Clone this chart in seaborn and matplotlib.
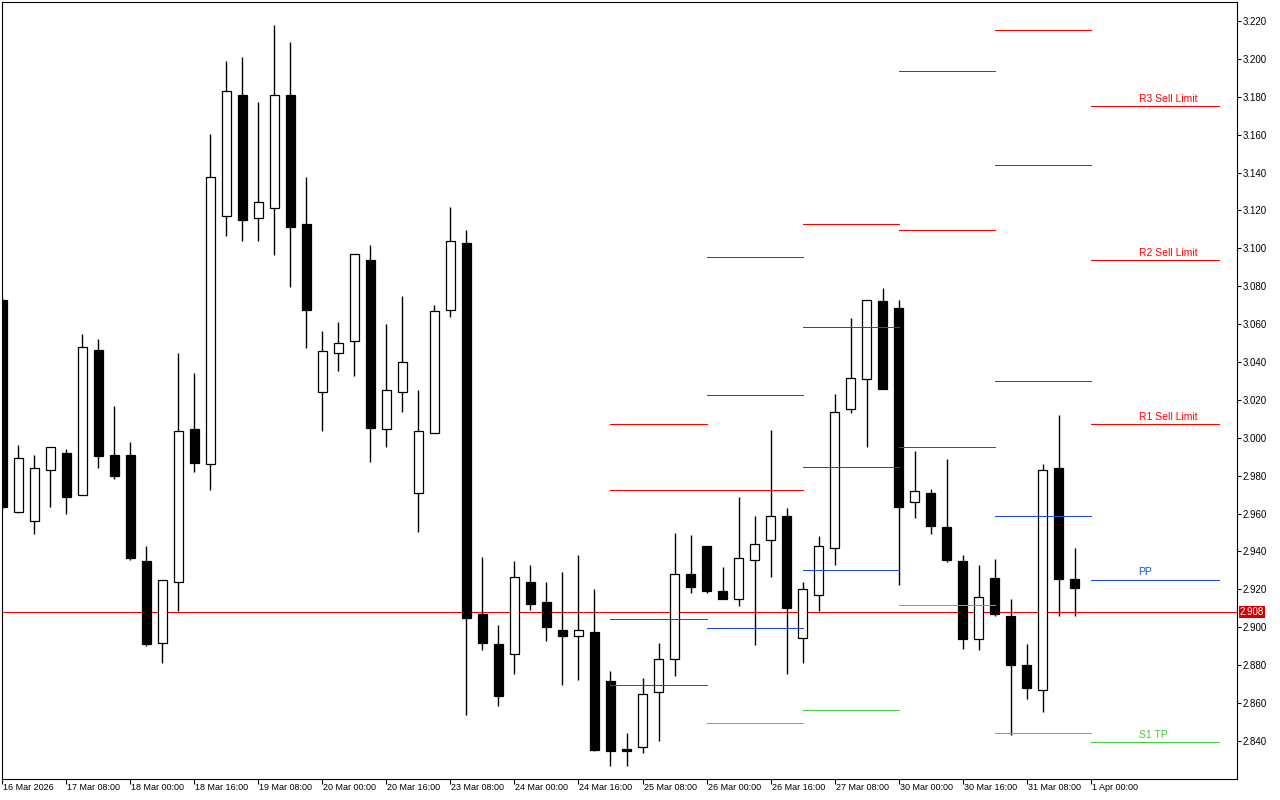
import matplotlib
matplotlib.use("Agg")
import matplotlib.pyplot as plt
import matplotlib.transforms as mtransforms
import seaborn as sns
import numpy as np

# 4H candles, one per bar slot (weekend bars are skipped)
opens = [3.0728, 2.9610, 2.9562, 2.9828, 2.9920, 2.9699, 3.0466, 2.9909, 2.9909, 2.9349,
         2.8918, 2.9239, 3.0049, 2.9861, 3.1169, 3.1807, 3.1158, 3.1215, 3.1807, 3.1126,
         3.0240, 3.0445, 3.0510, 3.0938, 3.0049, 3.0240, 2.9707, 3.0027, 3.0676, 3.1027,
         2.9069, 2.8910, 2.8859, 2.9239, 2.9136, 2.8988, 2.8956, 2.8977, 2.8719, 2.8358,
         2.8366, 2.8657, 2.8835, 2.9279, 2.9427, 2.9190, 2.9147, 2.9357, 2.9459, 2.9586,
         2.8945, 2.9171, 2.9416, 3.0154, 3.0308, 3.0720, 3.0687, 2.9659, 2.9707, 2.9527,
         2.9349, 2.8940, 2.9260, 2.9061, 2.8802, 2.8670, 2.9842, 2.9257]
highs = [3.0745, 2.9963, 2.9909, 2.9949, 2.9941, 3.0547, 3.0523, 3.0168, 2.9979, 2.9430,
         2.9247, 3.0448, 3.0343, 3.1605, 3.1988, 3.2009, 3.1772, 3.2179, 3.2090, 3.1379,
         3.0566, 3.0612, 3.0970, 3.1018, 3.0601, 3.0749, 3.0254, 3.0701, 3.1218, 3.1099,
         2.9370, 2.9012, 2.9349, 2.9330, 2.9239, 2.9290, 2.9381, 2.9201, 2.8767, 2.8444,
         2.8735, 2.8918, 2.9497, 2.9486, 2.9427, 2.9319, 2.9688, 2.9589, 3.0041, 2.9629,
         2.9239, 2.9481, 3.0232, 3.0633, 3.0725, 3.0790, 3.0728, 2.9931, 2.9731, 2.9887,
         2.9381, 2.9330, 2.9360, 2.9150, 2.8913, 2.9863, 3.0122, 2.9419]
lows = [2.9620, 2.9605, 2.9494, 2.9637, 2.9597, 2.9699, 2.9839, 2.9785, 2.9357, 2.8899,
        2.8810, 2.9088, 2.9817, 2.9726, 3.1064, 3.1037, 3.1037, 3.0967, 3.0795, 3.0475,
        3.0036, 3.0353, 3.0326, 2.9874, 2.9949, 3.0138, 2.9505, 3.0027, 3.0636, 2.8536,
        2.8878, 2.8587, 2.8756, 2.9090, 2.8926, 2.8697, 2.8724, 2.8345, 2.8266, 2.8266,
        2.8339, 2.8398, 2.8743, 2.9179, 2.9179, 2.9147, 2.9112, 2.8907, 2.9265, 2.8754,
        2.8810, 2.9088, 2.9327, 3.0130, 2.9949, 3.0256, 2.9225, 2.9578, 2.9494, 2.9346,
        2.8888, 2.8878, 2.9058, 2.8433, 2.8619, 2.8555, 2.9058, 2.9058]
closes = [2.9637, 2.9896, 2.9839, 2.9949, 2.9686, 3.0477, 2.9906, 2.9796, 2.9368, 2.8910,
          2.9247, 3.0038, 2.9866, 3.1379, 3.1829, 3.1148, 3.1247, 3.1807, 3.1115, 3.0676,
          3.0456, 3.0499, 3.0970, 3.0054, 3.0251, 3.0399, 3.0038, 3.0668, 3.1037, 2.9047,
          2.8915, 2.8635, 2.9268, 2.9125, 2.8999, 2.8956, 2.8988, 2.8355, 2.8345, 2.8345,
          2.8646, 2.8835, 2.9279, 2.9214, 2.9190, 2.9147, 2.9368, 2.9438, 2.9586, 2.9101,
          2.9201, 2.9427, 3.0138, 3.0318, 3.0725, 3.0256, 2.9637, 2.9718, 2.9537, 2.9357,
          2.8940, 2.9160, 2.9069, 2.8800, 2.8678, 2.9831, 2.9257, 2.9209]

x_labels = ["16 Mar 2026", "17 Mar 08:00", "18 Mar 00:00", "18 Mar 16:00", "19 Mar 08:00",
            "20 Mar 00:00", "20 Mar 16:00", "23 Mar 08:00", "24 Mar 00:00", "24 Mar 16:00",
            "25 Mar 08:00", "26 Mar 00:00", "26 Mar 16:00", "27 Mar 08:00", "30 Mar 00:00",
            "30 Mar 16:00", "31 Mar 08:00", "1 Apr 00:00"]
label_bar = list(range(0, 72, 4))

# daily pivot levels (bar where each day starts / ends)
day_start = [38, 44, 50, 56, 62, 68]
day_end = [44, 50, 56, 62, 68, 76]
r3 = [3.0073, 3.0952, 3.1126, None, 3.2151, 3.1751]
r2 = [2.9725, 3.0224, 3.0583, 3.1936, 3.1438, 3.0937]
r1 = [2.9044, 2.9723, 2.9845, 3.1095, 3.0299, 3.0075]
pp = [2.8696, 2.8995, 2.9301, 2.9950, 2.9586, 2.9252]
s1 = [None, 2.8494, 2.8562, 2.9116, 2.8444, 2.8395]
level_names = ["R3 Sell Limit", "R2 Sell Limit", "R1 Sell Limit", "PP", "S1 TP"]
bid = 2.908

RED = "#ff0000"
BLUE = "#1a4fd6"
GREEN = "#44cc44"

sns.set_theme(style="white", rc={"axes.edgecolor": "black", "axes.linewidth": 0.8})
plt.rcParams["font.family"] = ["Liberation Sans", "DejaVu Sans"]

fig = plt.figure(figsize=(12.8, 8), dpi=100)
ax = fig.add_axes([2 / 1280, 21.5 / 800, 1235 / 1280, 776.5 / 800])

x = np.arange(len(opens))
o = np.array(opens); c = np.array(closes)
bull = c >= o

# bid line
ax.axhline(bid, color=RED, lw=0.6, zorder=1, antialiased=False)

# wicks and bodies
ax.vlines(x, lows, highs, color="black", lw=1.0, zorder=2)
ax.bar(x, np.abs(c - o), bottom=np.minimum(o, c), width=0.56,
       color=np.where(bull, "white", "black"), edgecolor="black",
       linewidth=0.9, zorder=3)

# pivot segments
for levels, col in [(r3, RED), (r2, RED), (r1, RED), (pp, BLUE), (s1, GREEN)]:
    for i, v in enumerate(levels):
        if v is None:
            continue
        ax.hlines(v, day_start[i], day_end[i], color=col, lw=0.6, zorder=4,
                  antialiased=False)

# labels of the current day
last = [r3[-1], r2[-1], r1[-1], pp[-1], s1[-1]]
cols = [RED, RED, RED, BLUE, GREEN]
for name, v, col in zip(level_names, last, cols):
    ax.annotate(name, xy=(71, v), xytext=(0, 1.5), textcoords="offset points",
                ha="left", va="bottom", color=col, fontsize=7.5, zorder=5)

ax.set_xlim(-0.031, 77.156)
ax.set_ylim(2.8202, 3.2300)

ax.yaxis.tick_right()
ax.set_yticks(np.arange(2.84, 3.2201, 0.02))
ax.set_yticklabels([f"{v:.3f}" for v in np.arange(2.84, 3.2201, 0.02)])
ax.tick_params(axis="y", direction="out", length=3, width=0.8, pad=1,
               labelsize=7, colors="black", right=True, left=False)

ax.set_xticks(label_bar)
ax.set_xticklabels(x_labels, ha="left")
ax.tick_params(axis="x", direction="out", length=3.6, width=0.8, pad=-0.5,
               labelsize=6.5, colors="black", bottom=True)
offset = mtransforms.ScaledTranslation(1.0 / 100, 0, fig.dpi_scale_trans)
for lab in ax.get_xticklabels():
    lab.set_transform(lab.get_transform() + offset)

for sp in ax.spines.values():
    sp.set_visible(True)
    sp.set_color("black")
    sp.set_linewidth(0.8)

# bid price tag on the price scale
tag_tr = mtransforms.blended_transform_factory(ax.transAxes, ax.transData)
ax.text(1.0022, bid, f"{bid:.3f}", transform=tag_tr, ha="left", va="center",
        fontsize=7, color="white", clip_on=False, zorder=6,
        bbox=dict(boxstyle="square,pad=0.12", fc="#d40000", ec="none"))

fig.savefig("out.png", dpi=100)
